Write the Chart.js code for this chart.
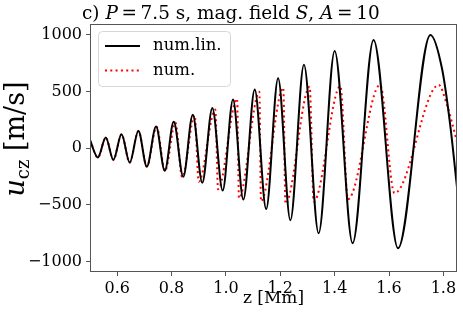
<!DOCTYPE html>
<html lang="en">
<head>
<meta charset="UTF-8">
<title>u_cz against z</title>
<script src="https://cdn.jsdelivr.net/npm/chart.js@4.4.1/dist/chart.umd.min.js"></script>
<style>
  html, body { margin: 0; padding: 0; background: #fff; }
</style>
</head>
<body>
<canvas id="waveChart" width="463" height="316"></canvas>
<script>
// peaks and troughs: z in Mm, u_cz in m/s
const linZ = [0.500, 0.529, 0.558, 0.586, 0.616, 0.646, 0.678, 0.709, 0.743, 0.775,
              0.808, 0.843, 0.878, 0.913, 0.950, 0.988, 1.026, 1.064, 1.106, 1.148,
              1.192, 1.237, 1.287, 1.341, 1.400, 1.466, 1.543, 1.633, 1.752, 1.795,
              1.825, 1.850];
const linU = [70, -83, 93, -103, 123, -127, 152, -162, 190, -200,
              232, -252, 294, -305, 355, -374, 430, -453, 517, -537,
              617, -635, 735, -750, 858, -838, 955, -882, 999, 700,
              205, -345];

const numZ = [0.500, 0.529, 0.558, 0.586, 0.616, 0.646, 0.678, 0.709, 0.745, 0.776,
              0.814, 0.839, 0.885, 0.900, 0.961, 0.971, 1.041, 1.048, 1.123, 1.129,
              1.211, 1.219, 1.308, 1.323, 1.421, 1.449, 1.567, 1.620, 1.783, 1.813,
              1.850];
const numU = [70, -83, 93, -103, 123, -127, 152, -162, 188, -200,
              226, -256, 290, -296, 340, -362, 435, -441, 497, -468,
              532, -490, 541, -471, 546, -450, 558, -397, 558, 382,
              58];

const xTicks = [0.6, 0.8, 1.0, 1.2, 1.4, 1.6, 1.8];
const yTicks = [-1000, -500, 0, 500, 1000];

const serif = "'DejaVu Serif', serif";

// draws a row of text pieces (some italic, some lowered) starting at x
function drawRuns(ctx, runs, x, y) {
    runs.forEach(r => {
        ctx.font = r.font;
        ctx.fillText(r.t, x, y + (r.dy || 0));
        x += ctx.measureText(r.t).width;
    });
}
function runsWidth(ctx, runs) {
    let w = 0;
    runs.forEach(r => { ctx.font = r.font; w += ctx.measureText(r.t).width; });
    return w;
}
function titleRuns(size) {
    const tf = size + 'px ' + serif, ti = 'italic ' + size + 'px ' + serif;
    return [
        {t: 'c) ', font: tf}, {t: 'P', font: ti}, {t: '\u2009=\u20097.5 s, mag. field ', font: tf},
        {t: 'S', font: ti}, {t: ', ', font: tf}, {t: 'A', font: ti}, {t: '\u2009=\u200910', font: tf}
    ];
}

const decorations = {
    id: 'decorations',
    afterDraw(chart) {
        const {ctx, chartArea: a} = chart;
        ctx.save();

        // axes frame
        ctx.strokeStyle = '#555';
        ctx.lineWidth = 1;
        ctx.strokeRect(Math.round(a.left) + 0.5, Math.round(a.top) + 0.5,
                       Math.round(a.right - a.left) - 1, Math.round(a.bottom - a.top) - 1);

        ctx.fillStyle = '#000';
        ctx.textBaseline = 'alphabetic';

        // title with italic symbols, sized to span about 298px like the original
        const w20 = runsWidth(ctx, titleRuns(20));
        drawRuns(ctx, titleRuns(20 * 298 / w20), 82, 18.5);

        // y axis label u_cz [m/s]
        const yl = [
            {t: 'u', font: 'italic 27px ' + serif},
            {t: 'cz', font: '18px ' + serif, dy: 5},
            {t: ' [m/s]', font: '27px ' + serif}
        ];
        ctx.save();
        ctx.translate(24, 139);
        ctx.rotate(-Math.PI / 2);
        drawRuns(ctx, yl, -runsWidth(ctx, yl) / 2, 0);
        ctx.restore();

        // legend box
        const bx = 98.5, by = 31.5, bw = 132, bh = 55, r = 4;
        ctx.beginPath();
        ctx.moveTo(bx + r, by);
        ctx.arcTo(bx + bw, by, bx + bw, by + bh, r);
        ctx.arcTo(bx + bw, by + bh, bx, by + bh, r);
        ctx.arcTo(bx, by + bh, bx, by, r);
        ctx.arcTo(bx, by, bx + bw, by, r);
        ctx.closePath();
        ctx.fillStyle = 'rgba(255,255,255,0.8)';
        ctx.fill();
        ctx.strokeStyle = '#d6d6d6';
        ctx.stroke();

        chart.data.datasets.forEach((ds, i) => {
            const ly = 46 + i * 24.5;
            ctx.beginPath();
            ctx.setLineDash(ds.borderDash || []);
            ctx.strokeStyle = ds.borderColor;
            ctx.lineWidth = ds.borderWidth;
            ctx.moveTo(105, ly);
            ctx.lineTo(140, ly);
            ctx.stroke();
            ctx.setLineDash([]);
            ctx.fillStyle = '#000';
            ctx.font = '16.5px ' + serif;
            ctx.textBaseline = 'middle';
            ctx.fillText(ds.label, 153, ly);
        });

        ctx.restore();
    }
};

const ctx = document.getElementById('waveChart').getContext('2d');
new Chart(ctx, {
    type: 'line',
    data: {
        datasets: [{
            label: 'num.lin.',
            data: linZ.map((z, i) => ({x: z, y: linU[i]})),
            borderColor: '#000000',
            borderWidth: 2,
            pointRadius: 0,
            cubicInterpolationMode: 'monotone'
        }, {
            label: 'num.',
            data: numZ.map((z, i) => ({x: z, y: numU[i]})),
            borderColor: '#ff0000',
            borderWidth: 2,
            borderDash: [2, 3.3],
            pointRadius: 0,
            cubicInterpolationMode: 'monotone'
        }]
    },
    options: {
        responsive: false,
        animation: false,
        devicePixelRatio: 1,
        layout: { padding: { top: 24, right: 6, left: 0, bottom: 0 } },
        plugins: { legend: { display: false }, tooltip: { enabled: false } },
        scales: {
            x: {
                type: 'linear',
                min: 0.5,
                max: 1.85,
                afterBuildTicks: s => { s.ticks = xTicks.map(v => ({value: v})); },
                afterFit: s => { s.height = 44; },
                grid: { drawOnChartArea: false, tickLength: 4, color: '#555' },
                border: { display: false },
                ticks: {
                    color: '#000',
                    padding: 3,
                    maxRotation: 0,
                    font: { family: serif, size: 16 },
                    callback: v => v.toFixed(1)
                },
                title: {
                    display: true,
                    text: 'z [Mm]',
                    color: '#000',
                    font: { family: serif, size: 17, lineHeight: 1.2 },
                    padding: { top: 0, bottom: 7 }
                }
            },
            y: {
                type: 'linear',
                min: -1092,
                max: 1095,
                afterBuildTicks: s => { s.ticks = yTicks.map(v => ({value: v})); },
                afterFit: s => { s.width = 90; },
                grid: { drawOnChartArea: false, tickLength: 4, color: '#555' },
                border: { display: false },
                ticks: {
                    color: '#000',
                    padding: 4,
                    font: { family: serif, size: 16 },
                    callback: v => v < 0 ? '\u2212' + Math.abs(v) : String(v)
                }
            }
        }
    },
    plugins: [decorations]
});
</script>
</body>
</html>
